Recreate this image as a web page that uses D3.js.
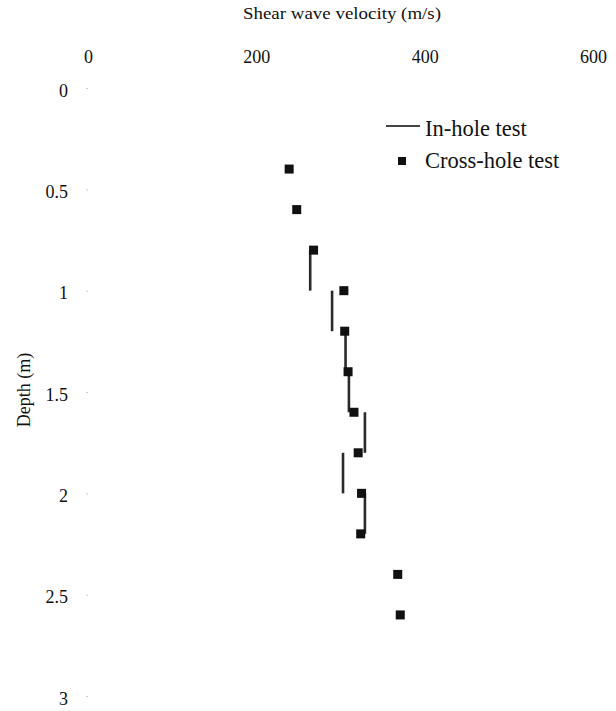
<!DOCTYPE html>
<html>
<head>
<meta charset="utf-8">
<script src="https://cdn.jsdelivr.net/npm/d3@7"></script>
<style>
  body { margin: 0; background: #fff; }
  text { font-family: "Liberation Serif", "Times New Roman", serif; fill: #111; }
</style>
</head>
<body>
<div id="chart"></div>
<script>
// cross-hole test: depth (m) and shear wave velocity (m/s)
var crossDepth = [0.4, 0.6, 0.8, 1.0, 1.2, 1.4, 1.6, 1.8, 2.0, 2.2, 2.4, 2.6];
var crossVel = [239, 248, 268, 304, 305, 309, 316, 321, 325, 324, 368, 371];

// in-hole test: each interval from top depth to bottom depth at one velocity
var inTop = [0.8, 1.0, 1.2, 1.4, 1.6, 1.8, 2.0];
var inBottom = [1.0, 1.2, 1.4, 1.6, 1.8, 2.0, 2.2];
var inVel = [264, 290, 306, 310, 329, 303, 329];

var xTicks = [0, 200, 400, 600];
var yTicks = [0, 0.5, 1, 1.5, 2, 2.5, 3];

// set the dimensions and margins of the graph
var margin = { top: 88, right: 23, bottom: 15, left: 88 },
  width = 616 - margin.left - margin.right,
  height = 711 - margin.top - margin.bottom;

var x = d3.scaleLinear().domain([0, 600]).range([0, width]);
var y = d3.scaleLinear().domain([0, 3]).range([0, height]);

var svg = d3.select("#chart").append("svg")
  .attr("width", 616)
  .attr("height", 711);

var g = svg.append("g")
  .attr("transform", "translate(" + margin.left + "," + margin.top + ")");

// top axis, labels only
var xAxis = g.append("g")
  .call(d3.axisTop(x).tickValues(xTicks).tickSize(0).tickPadding(25).tickFormat(d3.format("d")));
xAxis.select(".domain").remove();
xAxis.selectAll("text").style("font-size", "18px");

// left axis with faint tick marks
var yAxis = g.append("g")
  .call(d3.axisLeft(y).tickValues(yTicks).tickSize(2).tickPadding(18).tickFormat(function(d) { return d; }));
yAxis.select(".domain").remove();
yAxis.selectAll("line").attr("stroke", "#ccc");
yAxis.selectAll("text").style("font-size", "18px").attr("dy", "0.45em");

// axis titles
svg.append("text")
  .attr("x", 342)
  .attr("y", 19)
  .attr("text-anchor", "middle")
  .attr("textLength", 198)
  .attr("lengthAdjust", "spacingAndGlyphs")
  .style("font-size", "16px")
  .text("Shear wave velocity (m/s)");

svg.append("text")
  .attr("transform", "translate(30,390) rotate(-90)")
  .attr("text-anchor", "middle")
  .style("font-size", "18px")
  .text("Depth (m)");

// in-hole test segments
g.selectAll(".inhole")
  .data(inVel)
  .enter().append("line")
  .attr("class", "inhole")
  .attr("x1", function(d) { return x(d); })
  .attr("x2", function(d) { return x(d); })
  .attr("y1", function(d, i) { return y(inTop[i]); })
  .attr("y2", function(d, i) { return y(inBottom[i]); })
  .attr("stroke", "#2a2a2a")
  .attr("stroke-width", 2.6);

// cross-hole test squares
var sq = 9;
g.selectAll(".cross")
  .data(crossVel)
  .enter().append("rect")
  .attr("class", "cross")
  .attr("x", function(d) { return x(d) - sq / 2; })
  .attr("y", function(d, i) { return y(crossDepth[i]) - sq / 2; })
  .attr("width", sq)
  .attr("height", sq)
  .attr("fill", "#111");

// legend
svg.append("line")
  .attr("x1", 386).attr("x2", 420)
  .attr("y1", 126).attr("y2", 126)
  .attr("stroke", "#444")
  .attr("stroke-width", 2.2);
svg.append("text")
  .attr("x", 425).attr("y", 136)
  .style("font-size", "22.5px")
  .text("In-hole test");

svg.append("rect")
  .attr("x", 398).attr("y", 157)
  .attr("width", 8).attr("height", 8)
  .attr("fill", "#111");
svg.append("text")
  .attr("x", 425).attr("y", 168)
  .style("font-size", "22.5px")
  .text("Cross-hole test");
</script>
</body>
</html>
